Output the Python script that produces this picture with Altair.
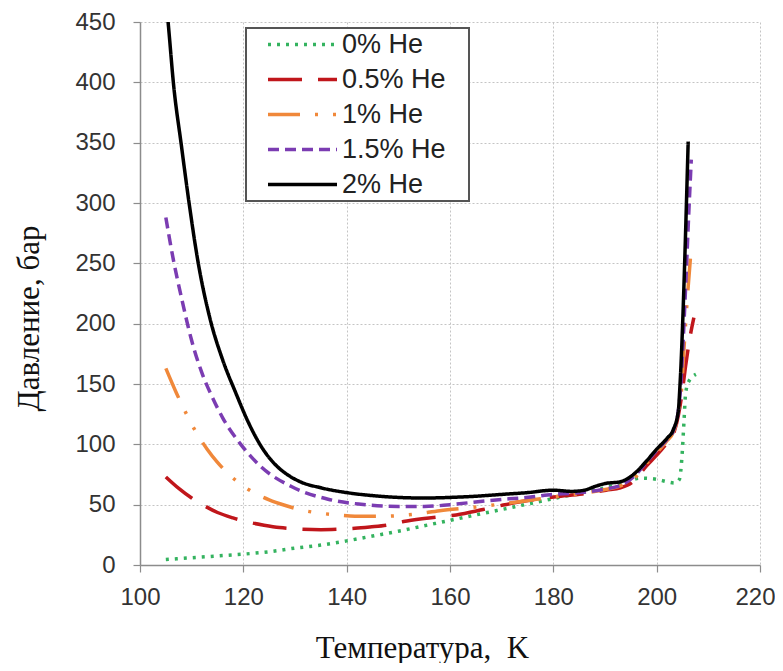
import altair as alt
import pandas as pd

series_names = ["0% He", "0.5% He", "1% He", "1.5% He", "2% He"]
series_colors = ["#34b35f", "#c0161b", "#f0883a", "#7b3cb2", "#000000"]
series_dashes = [[3, 6], [34, 16], [32, 15, 3, 15, 3, 15], [11, 6], [1, 0]]

x_ticks = [100, 120, 140, 160, 180, 200, 220]
y_ticks = [0, 50, 100, 150, 200, 250, 300, 350, 400, 450]

# 0% He
t_0 = [105, 110, 115, 120, 125, 130, 135, 140, 145, 150, 155, 160, 165, 170, 175, 180,
       185, 190, 194, 197, 200, 202, 203.5, 204.4, 204.9, 205.3, 205.6, 206.2, 207.6]
p_0 = [4.5, 6, 7.5, 9, 11, 14, 16.5, 20, 24, 28, 32.5, 37, 41.5, 46, 50.5, 55,
       59.5, 64, 69, 72, 71, 69, 68, 71, 90, 120, 142, 152, 158]

# 0.5% He
t_05 = [105, 107.5, 110, 112.5, 115, 118, 121, 124, 127, 131, 135, 138, 141.6,
        144.5, 147.8, 151, 155, 158, 161.2, 166.4, 170.3, 176, 180.5, 185.6, 190.2, 193,
        195.4, 198, 200, 202, 203.2, 204.2, 205, 205.6, 206.5, 207.2]
p_05 = [73, 63.5, 55.5, 49, 43.5, 39, 35.5, 33, 31, 29.8, 29.3, 29.6, 30.4,
        31.5, 33, 36, 38.5, 40, 41.5, 46, 49.7, 54, 56.6, 58.8, 62, 64,
        69, 82, 91, 101, 108, 124, 145, 165, 190, 205]

# 1% He
t_1 = [105, 107, 109, 111, 113, 115, 117, 119, 122, 125, 128, 131.2, 134.8, 138.4,
       141.6, 145, 148, 153, 158, 164.4, 170.8, 176, 180.5, 185, 190, 193, 195.5, 198, 200,
       202, 203.2, 204.2, 204.8, 205.3, 206, 206.7]
p_1 = [163, 143, 125, 109, 96, 85, 76, 68.5, 60, 54, 49.5, 45.6, 43, 41.4,
       40.5, 40.3, 40.5, 42, 45, 47.8, 51, 54, 56.6, 59, 62.5, 65.5, 71, 84, 93,
       103, 110, 125, 145, 180, 225, 263]

# 1.5% He
t_15 = [105, 106.5, 108, 110, 112, 114, 116, 119.5, 123.4, 129.3, 136.4, 142.3, 150, 155,
        160, 167.7, 176, 180, 184, 190, 193, 195.5, 198, 200, 202, 203.2, 204.2, 204.6, 205,
        205.6, 206.2, 206.7]
p_15 = [288, 252, 222, 186, 159, 139, 122, 100, 81.5, 65, 54.5, 50.5, 48.5, 48.5,
        50, 53.5, 56.5, 58.5, 59.5, 63, 66, 73, 85, 95, 104, 111, 128, 145, 175,
        230, 290, 336]

# 2% He
t_2 = [105, 105.5, 106.5, 108, 109.5, 111.2, 113.5, 116, 118.5, 121, 123.5, 126, 128.5,
       131, 135, 140, 145, 150, 155, 160, 165, 170, 175, 180, 183.5, 186, 188, 190,
       193, 195.5, 198, 200, 202, 203.2, 204.2, 204.5, 206.1]
p_2 = [470, 447, 398, 348, 300, 252, 205, 170, 143, 118, 98, 84, 75,
       69, 64, 60, 57.5, 56, 55.5, 56, 57, 58.5, 60, 62, 61, 62, 65, 67.5,
       69, 75, 86, 96, 105, 112, 128, 148, 351]

rows = []
for name, ts, ps in zip(series_names, [t_0, t_05, t_1, t_15, t_2], [p_0, p_05, p_1, p_15, p_2]):
    for i, (t, p) in enumerate(zip(ts, ps)):
        rows.append({"series": name, "T": t, "P": p, "idx": i})
df = pd.DataFrame(rows)

PAD_CHAR = "\u2800"

chart = alt.Chart(df).mark_line(strokeWidth=3.5, clip=True, strokeJoin="round",
                                interpolate="monotone").encode(
    x=alt.X("T:Q",
            scale=alt.Scale(domain=[100, 220], nice=False, zero=False),
            axis=alt.Axis(values=x_ticks, title="Температура,\u00a0 K", labelFlush=False,
                          labelOffset={"condition": {"test": "datum.value == 220", "value": -5}, "value": 0},
                          labelPadding=13, tickSize=7,
                          titleX=282, titleY=92, titleAlign="center", titleBaseline="alphabetic",
                          titleAngle=0)),
    y=alt.Y("P:Q",
            scale=alt.Scale(domain=[0, 450], nice=False),
            axis=alt.Axis(values=y_ticks, title="Давление, бар", labelFlush=False,
                          labelPadding=18, tickSize=7,
                          titleX=-102, titleY=296, titleAlign="center", titleBaseline="alphabetic",
                          titleAngle=270)),
    color=alt.Color("series:N",
                    scale=alt.Scale(domain=series_names, range=series_colors),
                    legend=alt.Legend(title=None, orient="none", legendX=106, legendY=6,
                                      symbolType="M-3,0H3", symbolSize=529, symbolOffset=40,
                                      symbolStrokeWidth=3.5,
                                      labelOffset=26, padding=3, rowPadding=7,
                                      labelFont="Liberation Sans", labelFontSize=27,
                                      labelColor="#222222", labelLimit=300,
                                      labelExpr="datum.label + '" + PAD_CHAR + "'",
                                      strokeColor="#555555", fillColor="white")),
    strokeDash=alt.StrokeDash("series:N",
                              scale=alt.Scale(domain=series_names, range=series_dashes)),
    order=alt.Order("idx:Q"),
).properties(
    width=620, height=543,
    autosize=alt.AutoSizeParams(type="none"),
    padding={"left": 132, "top": 14, "right": 15, "bottom": 98},
).configure_view(
    stroke=None
).configure_axis(
    labelFont="Liberation Sans", labelFontSize=24, labelColor="#333333",
    titleFont="Liberation Serif", titleFontSize=31, titleFontWeight="normal", titleColor="#111111",
    domainColor="#8c8c8c", domainWidth=1.5, tickColor="#8c8c8c", tickWidth=1.2,
    gridColor="#c4c4c4", gridDash=[2, 2], gridWidth=1,
).configure_legend(
    strokeWidth=2
)

chart.save("out.html", embed_options={"renderer": "svg", "actions": False})
